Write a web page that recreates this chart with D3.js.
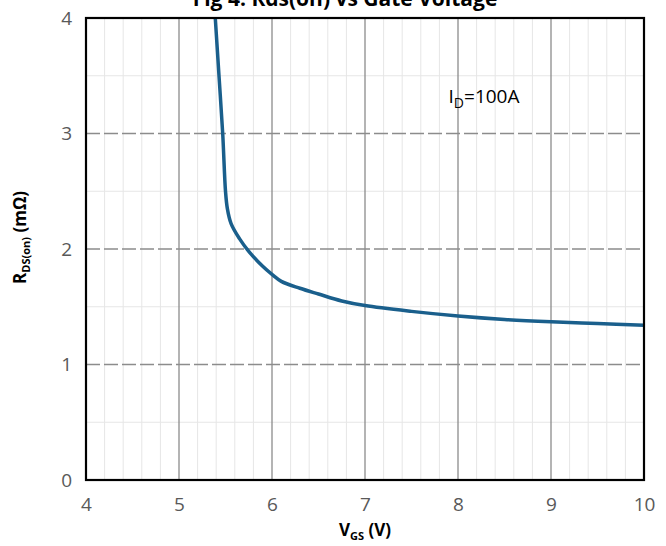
<!DOCTYPE html>
<html>
<head>
<meta charset="utf-8">
<script src="https://cdn.jsdelivr.net/npm/d3@7"></script>
<style>
  body { margin: 0; background: #fff; }
  text { font-family: "Open Sans", "Liberation Sans", sans-serif; }
</style>
</head>
<body>
<div id="chart"></div>
<script>
// Data
const vgs = [5.39, 5.43, 5.47, 5.50, 5.52, 5.56, 5.65, 5.75, 5.9, 6.0, 6.1, 6.3, 6.5, 6.75, 7.0, 7.5, 8.0, 8.5, 9.0, 9.5, 10.0]
const rds = [4.0, 3.5, 3.0, 2.5, 2.35, 2.22, 2.09, 1.98, 1.85, 1.78, 1.72, 1.66, 1.61, 1.55, 1.51, 1.46, 1.42, 1.39, 1.37, 1.355, 1.34]
const xTicks = [4, 5, 6, 7, 8, 9, 10]
const yTicks = [0, 1, 2, 3, 4]

const dataset = vgs.map((v, i) => ({ x: v, y: rds[i] }))

// Dimensions
const width = 666, height = 546
const margin = { top: 18, right: 22, bottom: 66, left: 86 }
const ctrWidth = width - margin.left - margin.right
const ctrHeight = height - margin.top - margin.bottom

const svg = d3.select('#chart')
  .append('svg')
  .attr('width', width)
  .attr('height', height)

const ctr = svg.append('g')
  .attr('transform', `translate(${margin.left}, ${margin.top})`)

// Scales
const xScale = d3.scaleLinear().domain([4, 10]).range([0, ctrWidth])
const yScale = d3.scaleLinear().domain([0, 4]).range([ctrHeight, 0])

// minor grid
ctr.append('g')
  .selectAll('line')
  .data(d3.range(4, 10.001, 0.2).filter(v => Math.abs(v - Math.round(v)) > 0.01))
  .join('line')
  .attr('x1', d => xScale(d)).attr('x2', d => xScale(d))
  .attr('y1', 0).attr('y2', ctrHeight)
  .attr('stroke', '#e6e6e6').attr('stroke-width', 1)

ctr.append('g')
  .selectAll('line')
  .data([0.5, 1.5, 2.5, 3.5])
  .join('line')
  .attr('x1', 0).attr('x2', ctrWidth)
  .attr('y1', d => yScale(d)).attr('y2', d => yScale(d))
  .attr('stroke', '#e6e6e6').attr('stroke-width', 1)

// major grid
ctr.append('g')
  .selectAll('line')
  .data(xTicks.slice(1, -1))
  .join('line')
  .attr('x1', d => xScale(d)).attr('x2', d => xScale(d))
  .attr('y1', 0).attr('y2', ctrHeight)
  .attr('stroke', '#8c8c8c').attr('stroke-width', 1.3)

ctr.append('g')
  .selectAll('line')
  .data(yTicks.slice(1, -1))
  .join('line')
  .attr('x1', 0).attr('x2', ctrWidth)
  .attr('y1', d => yScale(d)).attr('y2', d => yScale(d))
  .attr('stroke', '#8c8c8c').attr('stroke-width', 1.3)
  .attr('stroke-dasharray', '14,4')

// curve
const line = d3.line()
  .x(d => xScale(d.x))
  .y(d => yScale(d.y))
  .curve(d3.curveCatmullRom.alpha(0.5))

ctr.append('path')
  .datum(dataset)
  .attr('d', line)
  .attr('fill', 'none')
  .attr('stroke', '#1a5f8c')
  .attr('stroke-width', 3.5)
  .attr('stroke-linejoin', 'round')

// frame
ctr.append('rect')
  .attr('width', ctrWidth).attr('height', ctrHeight)
  .attr('fill', 'none').attr('stroke', '#000').attr('stroke-width', 2.2)

// axes
const xAxis = d3.axisBottom(xScale).tickValues(xTicks).tickFormat(d3.format('d')).tickSize(0).tickPadding(18)
const xg = ctr.append('g').attr('transform', `translate(0, ${ctrHeight})`).call(xAxis)
xg.select('.domain').remove()
xg.selectAll('text').attr('fill', '#595959').style('font-size', '19px')

const yAxis = d3.axisLeft(yScale).tickValues(yTicks).tickFormat(d3.format('d')).tickSize(0).tickPadding(14)
const yg = ctr.append('g').call(yAxis)
yg.select('.domain').remove()
yg.selectAll('text').attr('fill', '#595959').style('font-size', '19px')

// annotation
const ann = ctr.append('text')
  .attr('x', xScale(8.28)).attr('y', yScale(3.26))
  .attr('text-anchor', 'middle')
  .style('font-size', '19px').attr('fill', '#000')
ann.append('tspan').text('I')
ann.append('tspan').text('D').attr('dy', 5).style('font-size', '14px')
ann.append('tspan').text('=100A').attr('dy', -5)

// title (clipped at the top, as in the source)
svg.append('text')
  .attr('x', 345).attr('y', 6)
  .attr('text-anchor', 'middle')
  .style('font-size', '21px').style('font-weight', 'bold')
  .text('Fig 4. Rds(on) vs Gate Voltage')

// axis titles
const xt = svg.append('text')
  .attr('x', margin.left + xScale(7)).attr('y', 536)
  .attr('text-anchor', 'middle')
  .style('font-size', '17px').style('font-weight', 'bold')
xt.append('tspan').text('V')
xt.append('tspan').text('GS').attr('dy', 4).style('font-size', '11px')
xt.append('tspan').text(' (V)').attr('dy', -4)

const yt = svg.append('text')
  .attr('transform', `translate(26, ${margin.top + yScale(2.1)}) rotate(-90)`)
  .attr('text-anchor', 'middle')
  .style('font-size', '17px').style('font-weight', 'bold')
yt.append('tspan').text('R')
yt.append('tspan').text('DS(on)').attr('dy', 4).style('font-size', '11px')
yt.append('tspan').text(' (mΩ)').attr('dy', -4)
</script>
</body>
</html>
